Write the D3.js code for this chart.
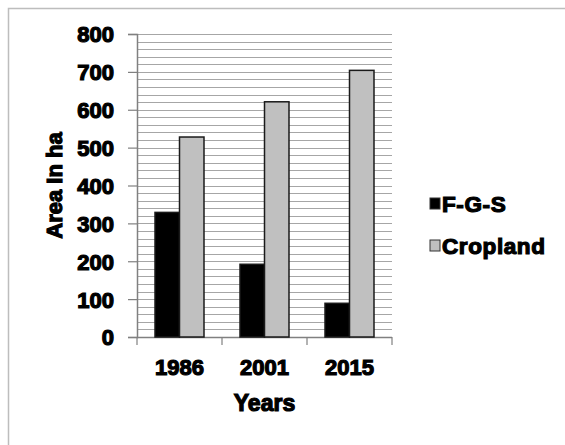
<!DOCTYPE html>
<html><head><meta charset="utf-8">
<script src="https://cdn.jsdelivr.net/npm/d3@7"></script>
<style>
body{margin:0;background:#fff;}
svg{display:block;}
text{font-family:"Liberation Sans",Arial,sans-serif;font-weight:bold;fill:#000;}
</style></head>
<body><svg id="c" width="565" height="445"></svg>
<script>
const years = ["1986","2001","2015"];
const seriesNames = ["F-G-S","Cropland"];
const fgs = [329, 192, 89];
const cropland = [528, 621, 704];
const yTicks = [0,100,200,300,400,500,600,700,800];
const colors = ["#000000","#c0c0c0"];

(function(){
const svg = d3.select("#c");
svg.append("path").attr("d","M8.5,445 V8.5 H565").attr("fill","none").attr("stroke","#bdbdbd").attr("stroke-width",1.5);

const pL=137, pR=392, pT=34, pB=337;
const y = d3.scaleLinear().domain([0,800]).range([pB,pT]);
const x0 = d3.scaleBand().domain(years).range([pL,pR]);
const x1 = d3.scaleBand().domain(seriesNames).range([18,67]);

svg.append("g").selectAll("line").data(d3.range(20,801,20)).join("line")
  .attr("x1",pL).attr("x2",pR)
  .attr("y1",d=>Math.round(y(d))+0.5).attr("y2",d=>Math.round(y(d))+0.5)
  .attr("stroke","#a6a6a6").attr("stroke-width",1);

const yAxis = d3.axisLeft(y).tickValues(yTicks).tickSize(9).tickPadding(14).tickFormat(d3.format("d"));
const ya = svg.append("g").attr("transform",`translate(${pL},0)`).call(yAxis);
ya.select(".domain").attr("stroke","#808080").attr("stroke-width",1.5);
ya.selectAll(".tick line").attr("stroke","#808080").attr("stroke-width",1.2);
ya.selectAll(".tick text").attr("font-size",22).attr("font-family","Liberation Sans, Arial, sans-serif")
  .attr("font-weight","bold").attr("fill","#000").attr("stroke","#000").attr("stroke-width",1.2).attr("dy","0.36em");

const xa = svg.append("g").attr("transform",`translate(0,${pB})`);
xa.append("line").attr("x1",pL).attr("x2",pR).attr("y1",0.5).attr("y2",0.5).attr("stroke","#808080").attr("stroke-width",1.5);
xa.selectAll("line.tk").data(years.map(d=>x0(d)).concat([pR])).join("line").attr("class","tk")
  .attr("x1",d=>d).attr("x2",d=>d).attr("y1",0).attr("y2",8).attr("stroke","#808080").attr("stroke-width",1.2);
xa.selectAll("text").data(years).join("text")
  .attr("x",d=>x0(d)+x0.bandwidth()/2).attr("y",38)
  .attr("text-anchor","middle").attr("font-size",22).attr("stroke","#000").attr("stroke-width",1.2)
  .text(d=>d);

const data = years.map((yr,i)=>({yr, vals:[fgs[i],cropland[i]]}));
const groups = svg.append("g").selectAll("g").data(data).join("g")
  .attr("transform",d=>`translate(${x0(d.yr)},0)`);
groups.selectAll("rect").data(d=>d.vals.map((v,j)=>({v,s:seriesNames[j],c:colors[j]}))).join("rect")
  .attr("x",d=>x1(d.s)).attr("width",x1.bandwidth())
  .attr("y",d=>y(d.v)).attr("height",d=>pB-y(d.v))
  .attr("fill",d=>d.c).attr("stroke","#1a1a1a").attr("stroke-width",1.5);

svg.append("text").attr("x",(pL+pR)/2).attr("y",411).attr("text-anchor","middle")
  .attr("font-size",23).attr("stroke","#000").attr("stroke-width",1.2).text("Years");
svg.append("text").attr("transform",`translate(62,${(pT+pB)/2}) rotate(-90)`).attr("text-anchor","middle")
  .attr("font-size",22).attr("stroke","#000").attr("stroke-width",1.2).text("Area In ha");

const leg = svg.append("g").selectAll("g").data(seriesNames).join("g")
  .attr("transform",(d,i)=>`translate(430,${198+i*42})`);
leg.append("rect").attr("width",10).attr("height",11).attr("fill",(d,i)=>colors[i]).attr("stroke","#333").attr("stroke-width",1);
leg.append("text").attr("x",12).attr("y",14).attr("font-size",22.5).attr("letter-spacing",0.6)
  .attr("stroke","#000").attr("stroke-width",1.2).text(d=>d);
})();
</script></body></html>
